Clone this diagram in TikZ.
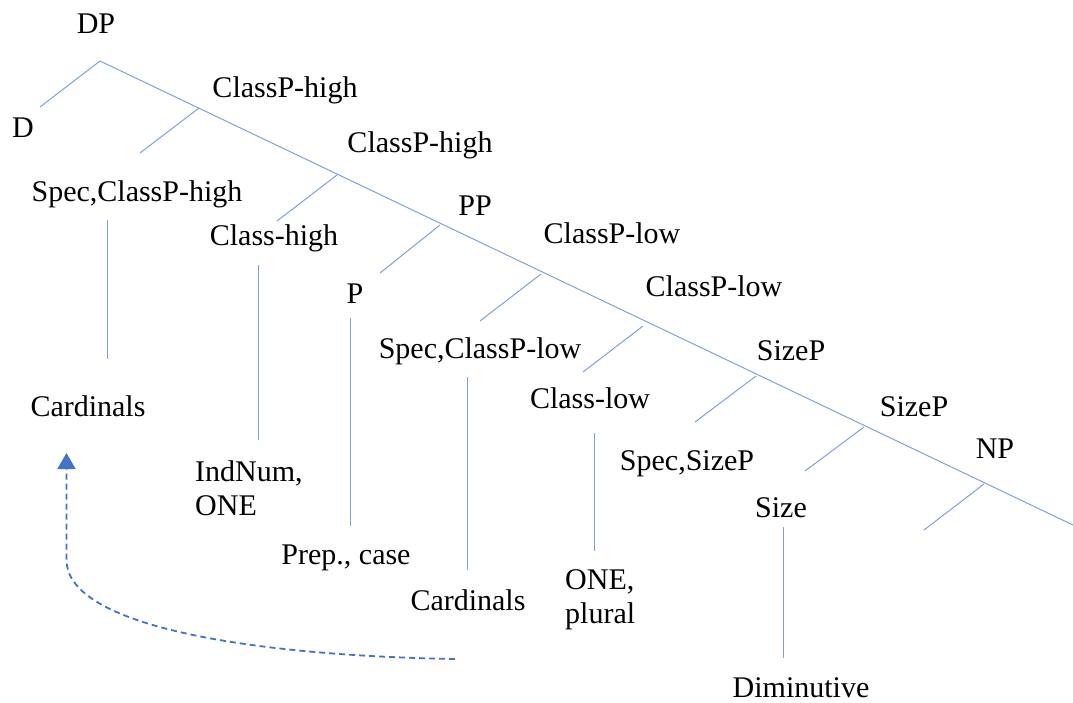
\documentclass[tikz,border=0pt]{standalone}
\usepackage{fontspec}
\setmainfont{Liberation Serif}
\usetikzlibrary{arrows.meta}
\definecolor{branch}{RGB}{128,160,220}
\definecolor{movecol}{RGB}{68,114,196}
\tikzset{
  lbl/.style={inner sep=0pt, anchor=base, font=\fontsize{30}{34}\selectfont},
  lblw/.style={lbl, anchor=base west, align=left},
  edge/.style={draw=branch, line width=1pt},
  move/.style={draw=movecol, line width=1.8pt, dash pattern=on 6pt off 4pt,
               -{Triangle[width=18pt,length=16pt]}},
}
\begin{document}
\begin{tikzpicture}[x=1pt,y=-1pt]
\useasboundingbox (0,0) rectangle (1073,702);

% category labels
\node[lbl] (dp)   at (96,33)   {DP};
\node[lbl] (d)    at (23,137)  {D};
\node[lbl] (chp1) at (285,97)  {ClassP-high};
\node[lbl] (chp2) at (420,152) {ClassP-high};
\node[lbl] (sch)  at (137,201) {Spec,ClassP-high};
\node[lbl] (ch)   at (274,245) {Class-high};
\node[lbl] (pp)   at (475,215) {PP};
\node[lbl] (clp1) at (612,243) {ClassP-low};
\node[lbl] (clp2) at (714,296) {ClassP-low};
\node[lbl] (p)    at (355,303) {P};
\node[lbl] (scl)  at (480,358) {Spec,ClassP-low};
\node[lbl] (cl)   at (590,408) {Class-low};
\node[lbl] (szp1) at (791,360) {SizeP};
\node[lbl] (szp2) at (914,416) {SizeP};
\node[lbl] (np)   at (995,458) {NP};
\node[lbl] (ssz)  at (687,470) {Spec,SizeP};
\node[lbl] (sz)   at (781,517) {Size};

% lexical content (two-line labels are anchored at their last baseline)
\node[lbl] (card1) at (88,416)  {Cardinals};
\node[lblw] (ind)  at (195,515) {IndNum,\\ONE};
\node[lbl] (prep)  at (346,564) {Prep., case};
\node[lbl] (card2) at (468,610) {Cardinals};
\node[lblw] (one)  at (565,623) {ONE,\\plural};
\node[lbl] (dim)   at (801,697) {Diminutive};

% branching points on the right spine
\coordinate (top) at (100,61);
\coordinate (b1) at (199,108);
\coordinate (b2) at (337,175);
\coordinate (b3) at (440,225);
\coordinate (b4) at (541,274);
\coordinate (b5) at (643,326);
\coordinate (b6) at (756,376);
\coordinate (b7) at (864,427);
\coordinate (b8) at (984,484);
\coordinate (tail) at (1073,525);

% left daughters
\coordinate (l0) at (40,107);
\coordinate (l1) at (140,153);
\coordinate (l2) at (277,221);
\coordinate (l3) at (380,273);
\coordinate (l4) at (480,321);
\coordinate (l5) at (583,372);
\coordinate (l6) at (695,422);
\coordinate (l7) at (805,471);
\coordinate (l8) at (924,530);

\path[edge] (top) -- (tail);
\path[edge] (top) -- (l0);
\path[edge] (b1) -- (l1);
\path[edge] (b2) -- (l2);
\path[edge] (b3) -- (l3);
\path[edge] (b4) -- (l4);
\path[edge] (b5) -- (l5);
\path[edge] (b6) -- (l6);
\path[edge] (b7) -- (l7);
\path[edge] (b8) -- (l8);

% vertical links to lexical content
\coordinate (v1a) at (107,220); \coordinate (v1b) at (107,359);
\coordinate (v2a) at (258.5,265); \coordinate (v2b) at (258.5,440);
\coordinate (v3a) at (350,318); \coordinate (v3b) at (350,526);
\coordinate (v4a) at (467,377); \coordinate (v4b) at (467,570);
\coordinate (v5a) at (594,433); \coordinate (v5b) at (594,551);
\coordinate (v6a) at (783,527); \coordinate (v6b) at (783,658);
\path[edge] (v1a) -- (v1b);
\path[edge] (v2a) -- (v2b);
\path[edge] (v3a) -- (v3b);
\path[edge] (v4a) -- (v4b);
\path[edge] (v5a) -- (v5b);
\path[edge] (v6a) -- (v6b);

% movement of the cardinals
\coordinate (mvstart) at (455,659);
\coordinate (mvend) at (66.5,453);
\draw[move] (mvstart) .. controls (230,655) and (66.5,622) .. (66.5,560) -- (mvend);
\end{tikzpicture}
\end{document}
